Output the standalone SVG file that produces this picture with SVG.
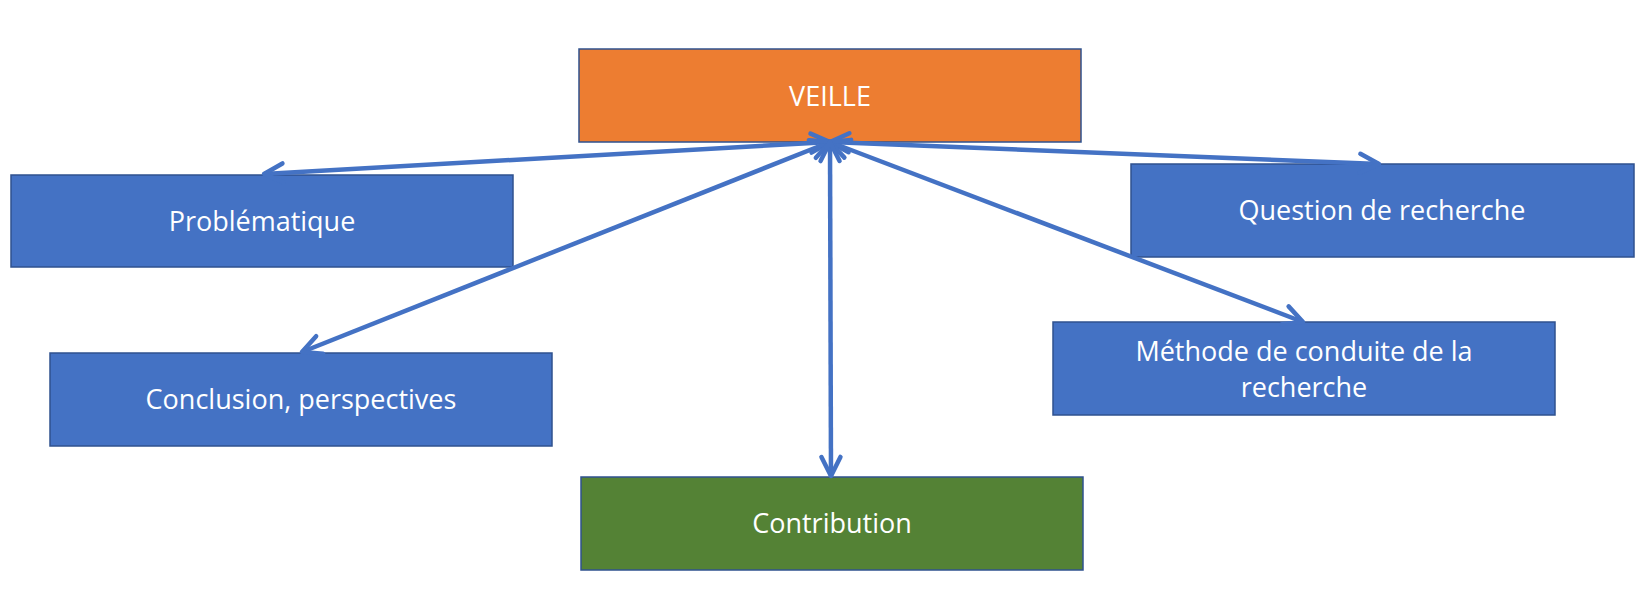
<svg xmlns="http://www.w3.org/2000/svg" width="1636" height="607" viewBox="0 0 1636 607">
  <defs>
    <style>
      .box { stroke: #2F528F; stroke-width: 1.5; }
      .blue { fill: #4472C4; }
      .orange { fill: #ED7D31; }
      .green { fill: #548235; }
      .label { font-family: "Open Sans", "Noto Sans", sans-serif; font-size: 27px; fill: #FFFFFF; text-anchor: middle; }
      .conn { stroke: #4472C4; stroke-width: 4.5; fill: none; marker-start: url(#arrow); marker-end: url(#arrow); }
    </style>
    <marker id="arrow" markerUnits="userSpaceOnUse" markerWidth="40" markerHeight="40" viewBox="-30 -20 40 40" refX="0" refY="0" orient="auto-start-reverse" overflow="visible">
      <path d="M-19,-9.5 L0,0 L-19,9.5" fill="none" stroke="#4472C4" stroke-width="4.5" stroke-linecap="round" stroke-linejoin="round"/>
    </marker>
  </defs>
  <rect width="1636" height="607" fill="#FFFFFF"/>

  <g id="veille">
    <rect class="box orange" x="579" y="49" width="502" height="93"/>
    <text class="label" x="830" y="106">VEILLE</text>
  </g>
  <g id="problematique">
    <rect class="box blue" x="11" y="175" width="502" height="92"/>
    <text class="label" x="262" y="231">Problématique</text>
  </g>
  <g id="question">
    <rect class="box blue" x="1131" y="164" width="503" height="93"/>
    <text class="label" x="1382" y="220">Question de recherche</text>
  </g>
  <g id="conclusion">
    <rect class="box blue" x="50" y="353" width="502" height="93"/>
    <text class="label" x="301" y="409">Conclusion, perspectives</text>
  </g>
  <g id="methode">
    <rect class="box blue" x="1053" y="322" width="502" height="93"/>
    <text class="label" x="1304" y="361">Méthode de conduite de la</text>
    <text class="label" x="1304" y="397">recherche</text>
  </g>
  <g id="contribution">
    <rect class="box green" x="581" y="477" width="502" height="93"/>
    <text class="label" x="832" y="533">Contribution</text>
  </g>

  <g id="connectors">
    <line class="conn" x1="830" y1="142" x2="264" y2="174"/>
    <line class="conn" x1="830" y1="142" x2="1379" y2="164"/>
    <line class="conn" x1="830" y1="142" x2="302" y2="352"/>
    <line class="conn" x1="830" y1="142" x2="1303" y2="322"/>
    <line class="conn" x1="830" y1="142" x2="831" y2="476"/>
  </g>
</svg>
